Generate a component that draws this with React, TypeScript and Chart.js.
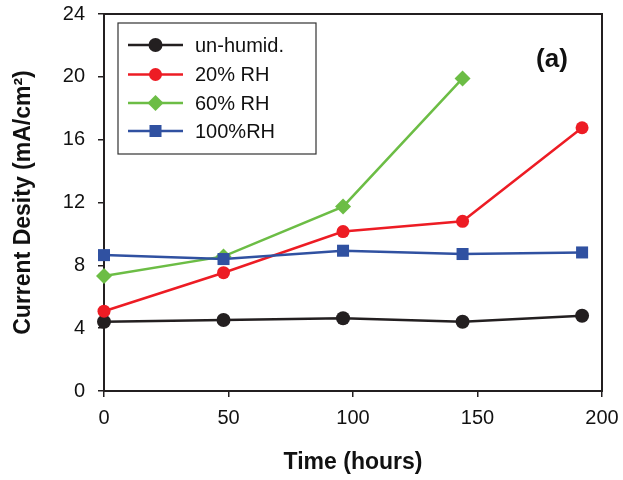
import React, { useEffect, useRef } from "react";
import { Chart, registerables } from "chart.js";

Chart.register(...registerables);

const timeHours = [0, 48, 96, 144, 192];
const unHumid = [4.41, 4.52, 4.63, 4.41, 4.79];
const rh20 = [5.08, 7.53, 10.15, 10.8, 16.76];
const rh60 = [7.32, 8.57, 11.74, 19.9];
const rh100 = [8.65, 8.4, 8.93, 8.72, 8.82];

const seriesLabels = ["un-humid.", "20% RH", "60% RH", "100%RH"];
const seriesColors = ["#231f20", "#ed1c24", "#6cbd45", "#3051a1"];
const seriesMarkers = ["circle", "circle", "rectRot", "rect"];
const markerRadius = [7, 6.5, 8, 8.5];

const xTitle = "Time (hours)";
const yTitle = "Current Desity (mA/cm²)";
const panelLabel = "(a)";

const FONT = "'Liberation Sans', Arial, Helvetica, sans-serif";
const INK = "#231f20";

function drawMarker(ctx: CanvasRenderingContext2D, style: string, x: number, y: number, r: number, color: string) {
  ctx.save();
  ctx.fillStyle = color;
  ctx.beginPath();
  if (style === "circle") {
    ctx.arc(x, y, r, 0, Math.PI * 2);
  } else if (style === "rect") {
    const s = Math.SQRT1_2 * r;
    ctx.rect(x - s, y - s, 2 * s, 2 * s);
  } else {
    ctx.moveTo(x, y - r);
    ctx.lineTo(x + r, y);
    ctx.lineTo(x, y + r);
    ctx.lineTo(x - r, y);
    ctx.closePath();
  }
  ctx.fill();
  ctx.restore();
}

const framePlugin = {
  id: "frame",
  beforeDatasetsDraw(chart: any) {
    const { ctx, chartArea } = chart;
    ctx.save();
    ctx.strokeStyle = INK;
    ctx.lineWidth = 2;
    ctx.strokeRect(chartArea.left, chartArea.top, chartArea.right - chartArea.left, chartArea.bottom - chartArea.top);
    ctx.restore();
  },
  afterDatasetsDraw(chart: any) {
    const { ctx } = chart;
    ctx.save();
    ctx.fillStyle = "#ffffff";
    ctx.fillRect(118, 23, 198, 131);
    ctx.strokeStyle = "#333333";
    ctx.lineWidth = 1.2;
    ctx.strokeRect(118, 23, 198, 131);
    const ys = [45, 74.5, 103, 131];
    chart.data.datasets.forEach((ds: any, i: number) => {
      const y = ys[i];
      ctx.strokeStyle = ds.borderColor;
      ctx.lineWidth = 2.5;
      ctx.beginPath();
      ctx.moveTo(128, y);
      ctx.lineTo(183, y);
      ctx.stroke();
      drawMarker(ctx, ds.pointStyle, 155.5, y, ds.pointRadius, ds.borderColor);
      ctx.fillStyle = "#111111";
      ctx.font = `20px ${FONT}`;
      ctx.textAlign = "left";
      ctx.textBaseline = "middle";
      ctx.fillText(ds.label, 195, y + 1);
    });
    ctx.fillStyle = "#111111";
    ctx.font = `bold 26px ${FONT}`;
    ctx.textAlign = "center";
    ctx.textBaseline = "middle";
    ctx.fillText(panelLabel, 552, 60);
    ctx.restore();
  },
};

export default function App() {
  const ref = useRef<HTMLCanvasElement | null>(null);
  useEffect(() => {
    if (!ref.current) return;
    const series = [unHumid, rh20, rh60, rh100];
    const chart = new Chart(ref.current, {
      type: "line",
      data: {
        datasets: series.map((vals, i) => ({
          label: seriesLabels[i],
          data: vals.map((v, j) => ({ x: timeHours[j], y: v })),
          borderColor: seriesColors[i],
          backgroundColor: seriesColors[i],
          pointBackgroundColor: seriesColors[i],
          pointBorderColor: seriesColors[i],
          pointBorderWidth: 0,
          pointStyle: seriesMarkers[i] as any,
          pointRadius: markerRadius[i],
          borderWidth: 2.5,
          tension: 0,
          fill: false,
          clip: false as any,
          order: 4 - i,
        })),
      },
      options: {
        responsive: false,
        animation: false,
        devicePixelRatio: 1,
        layout: { padding: { top: 14, right: 21, bottom: 0, left: 0 } },
        plugins: { legend: { display: false }, tooltip: { enabled: false } },
        scales: {
          x: {
            type: "linear",
            min: 0,
            max: 200,
            afterFit: (s: any) => {
              s.height = 89;
              s.paddingLeft = 0;
              s.paddingRight = 0;
            },
            ticks: { stepSize: 50, color: "#111111", font: { size: 20, family: FONT }, padding: 9, maxRotation: 0 },
            grid: { drawOnChartArea: false, drawTicks: true, tickLength: 6, color: INK, lineWidth: 1.5 },
            border: { display: false },
            title: {
              display: true,
              text: xTitle,
              color: "#111111",
              font: { size: 23, weight: "bold", family: FONT },
              padding: { top: 0, bottom: 4 },
            },
          },
          y: {
            type: "linear",
            min: 0,
            max: 24,
            afterFit: (s: any) => {
              s.width = 104;
              s.paddingTop = 0;
              s.paddingBottom = 0;
            },
            ticks: { stepSize: 4, color: "#111111", font: { size: 20, family: FONT }, padding: 13 },
            grid: { drawOnChartArea: false, drawTicks: true, tickLength: 6, color: INK, lineWidth: 1.5 },
            border: { display: false },
            title: {
              display: true,
              text: yTitle,
              color: "#111111",
              font: { size: 23, weight: "bold", family: FONT },
              padding: { top: 10, bottom: 0 },
            },
          },
        },
      },
      plugins: [framePlugin],
    });
    return () => chart.destroy();
  }, []);
  return (
    <div style={{ position: "absolute", left: 0, top: 0, width: 623, height: 480, background: "#fff" }}>
      <canvas ref={ref} width={623} height={480} style={{ display: "block", width: 623, height: 480 }} />
    </div>
  );
}
